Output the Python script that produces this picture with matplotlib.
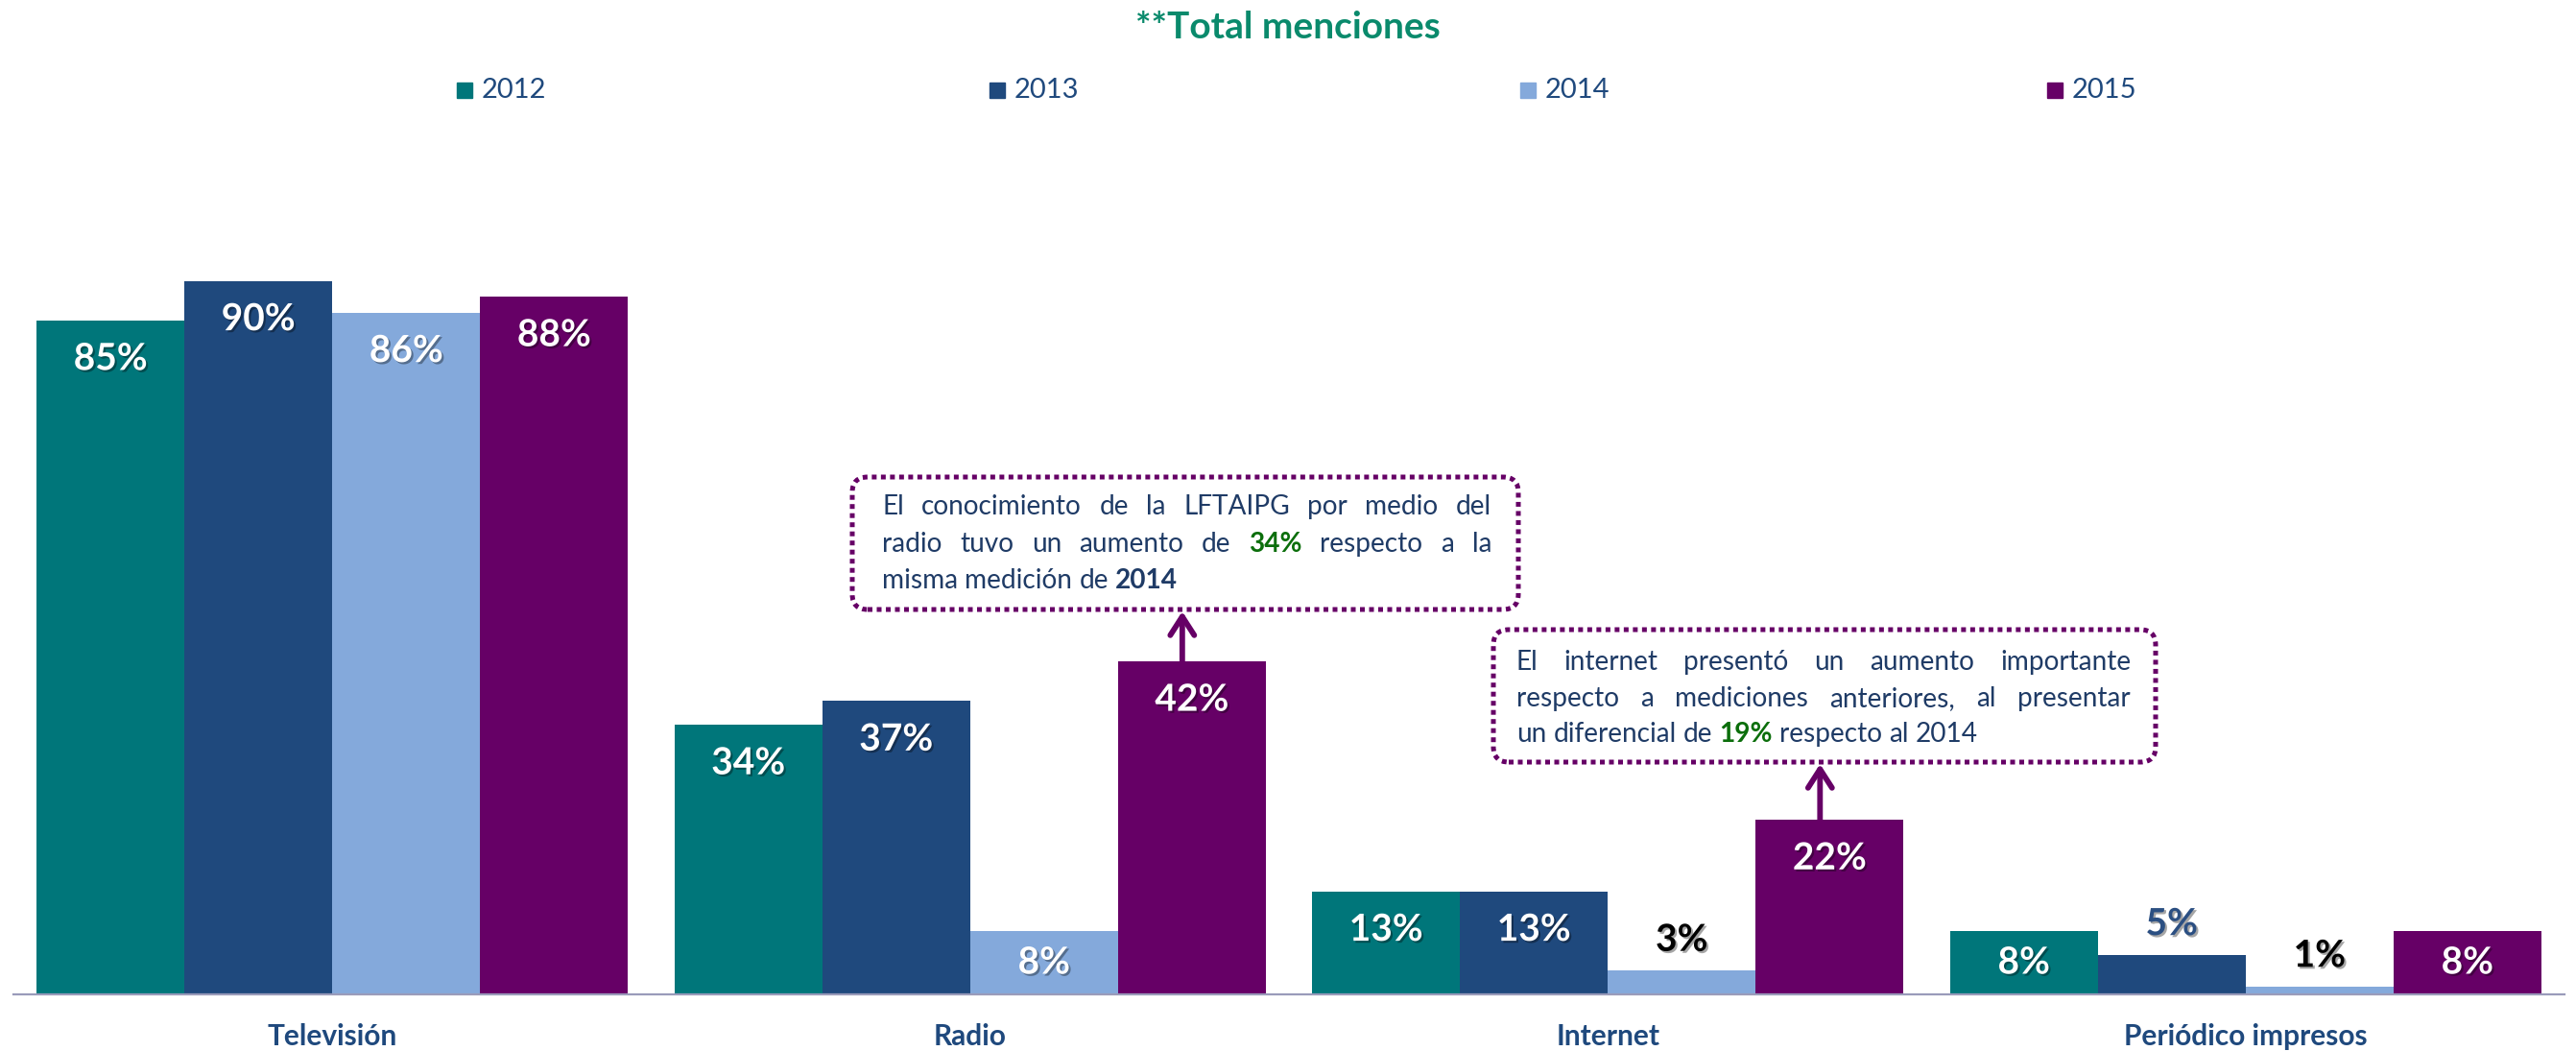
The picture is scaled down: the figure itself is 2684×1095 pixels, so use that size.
import matplotlib
matplotlib.use("Agg")
import matplotlib.pyplot as plt
import matplotlib.patheffects as pe
from matplotlib.patches import Rectangle, FancyBboxPatch
from matplotlib.transforms import IdentityTransform
import numpy as np

plt.rcParams['font.family'] = ['Lato', 'DejaVu Sans']

# ---- data -------------------------------------------------------------
categories = ['Televisión', 'Radio', 'Internet', 'Periódico impresos']
years = ['2012', '2013', '2014', '2015']
v2012 = [85, 34, 13, 8]
v2013 = [90, 37, 13, 5]
v2014 = [86, 8, 3, 1]
v2015 = [88, 42, 22, 8]
series = [v2012, v2013, v2014, v2015]

title = '**Total menciones'
note_radio = [
    "El conocimiento de la LFTAIPG por medio del",
    "radio tuvo un aumento de [g]34% respecto a la",
    "misma medición de [b]2014",
]
note_internet = [
    "El internet presentó un aumento importante",
    "respecto a mediciones anteriores, al presentar",
    "un diferencial de [g]19% respecto al 2014",
]

# ---- style ------------------------------------------------------------
colors = ['#00767A', '#1F497D', '#84A9DB', '#660066']
outside_label_colors = ['#000000', '#2B4F82', '#000000', '#000000']
text_blue = '#1F3B66'
green = '#0B6E0B'
title_green = '#0A8A6C'
purple = '#660066'

W, H = 2684, 1095
fig = plt.figure(figsize=(W / 100, H / 100), dpi=100)
fig.patch.set_facecolor('white')

base_px = 1036          # baseline, pixels from top
px_per_unit = 8.26      # pixels per percentage point
ax = fig.add_axes([14 / W, (H - base_px) / H, 2658 / W, 826 / H])
ax.set_xlim(-0.5, 3.5)
ax.set_ylim(0, 100)
for s in ['top', 'right', 'left']:
    ax.spines[s].set_visible(False)
ax.spines['bottom'].set_color('#9A9BBA')
ax.spines['bottom'].set_linewidth(1.6)
ax.set_xticks([])
ax.set_yticks([])

bw = 0.2318
x = np.arange(len(categories))
shadow = [pe.withSimplePatchShadow(offset=(1.5, -1.5), shadow_rgbFace='black', alpha=0.35)]

for i, (vals, c) in enumerate(zip(series, colors)):
    xs = x + (i - 1.5) * bw
    ax.bar(xs, vals, bw, color=c, edgecolor='none', zorder=2)
    for xi, v in zip(xs, vals):
        if v < 7:
            y = v + 32 / px_per_unit
            col = outside_label_colors[i]
        else:
            y = max(v - 40 / px_per_unit, v / 2)
            col = 'white'
        ax.text(xi, y, f'{v}%', ha='center', va='center', fontsize=28,
                fontweight='bold', color=col, path_effects=shadow, zorder=3)

# category labels
for xi, cat in zip(x, categories):
    ax.text(xi, -44 / 826, cat, transform=ax.get_xaxis_transform(),
            ha='center', va='center', fontsize=21.5, fontweight='bold',
            color='#1F497D')

# title
fig.text(0.5, (H - 29) / H, title, ha='center', va='center', fontsize=28,
         fontweight='bold', color=title_green)

# legend
leg_y = 94
for yr, c, sx in zip(years, colors, [484, 1039, 1592, 2141]):
    fig.add_artist(Rectangle((sx - 8, H - leg_y - 8), 16, 16, color=c,
                             transform=IdentityTransform()))
    fig.text((sx + 18) / W, (H - leg_y) / H, yr, ha='left', va='center',
             fontsize=21, color='#1F497D')

# ---- notes --------------------------------------------------------------
renderer = fig.canvas.get_renderer()


def measure(s, size, weight='normal'):
    t = fig.text(0, 0, s, fontsize=size, fontweight=weight)
    w = t.get_window_extent(renderer).width
    t.remove()
    return w


def paragraph(lines, left, right, ys, size):
    space = measure('a a', size) - measure('aa', size)
    for k, (line, y) in enumerate(zip(lines, ys)):
        items = []
        for word in line.split():
            col, weight = text_blue, 'normal'
            if word.startswith('[g]'):
                word, col, weight = word[3:], green, 'bold'
            elif word.startswith('[b]'):
                word, col, weight = word[3:], text_blue, 'bold'
            items.append(fig.text(0, (H - y) / H, word, fontsize=size,
                                  color=col, fontweight=weight,
                                  ha='left', va='center', zorder=6))
        widths = [t.get_window_extent(renderer).width for t in items]
        if k < len(lines) - 1 and len(items) > 1:
            gap = (right - left - sum(widths)) / (len(items) - 1)
        else:
            gap = space
        xc = left
        for t, w in zip(items, widths):
            t.set_x(xc / W)
            xc += w + gap


def note_box(x0, y0, x1, y1):
    fig.add_artist(FancyBboxPatch((x0, H - y1), x1 - x0, y1 - y0,
                                  boxstyle='round,pad=0,rounding_size=16',
                                  facecolor='white', edgecolor=purple,
                                  linewidth=3.6, linestyle=(0, (1, 0.9)),
                                  transform=IdentityTransform(), zorder=4))


note_box(888, 497, 1582, 635)
paragraph(note_radio, 919, 1554, [528, 567, 605], 20.2)
note_box(1556, 656, 2246, 794)
paragraph(note_internet, 1580, 2220, [690, 728, 765], 20.2)

# arrows from bar tops up to the notes
arrow_kw = dict(arrowstyle='->,head_length=0.7,head_width=0.45', lw=4.2,
                color=purple, shrinkA=0, shrinkB=0, mutation_scale=20)
for cat_idx, box_bottom in [(1, 637), (2, 796)]:
    bx = x[cat_idx] + 1.5 * bw - 0.015
    ax.annotate('', xy=(bx, H - box_bottom), xycoords=('data', 'figure pixels'),
                xytext=(bx, v2015[cat_idx]), textcoords='data',
                arrowprops=arrow_kw, annotation_clip=False)

fig.savefig('out.png', dpi=100, facecolor='white')
